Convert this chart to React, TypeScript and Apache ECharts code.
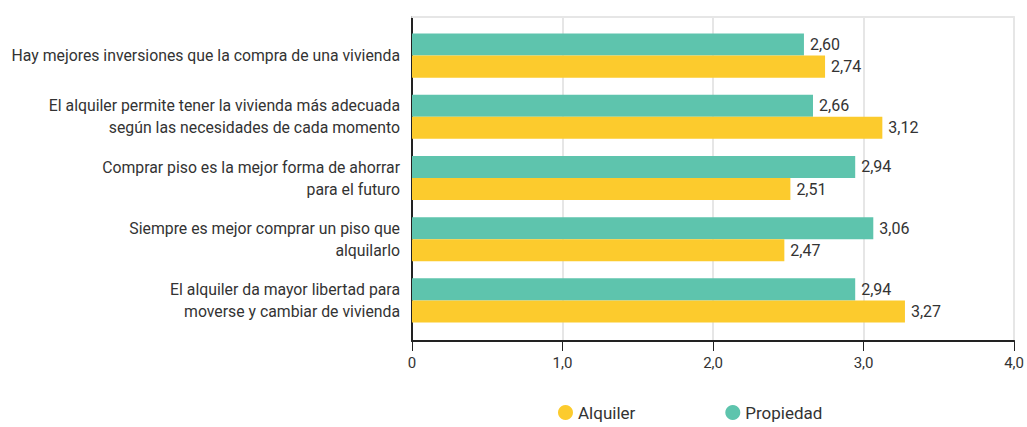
import React, { useEffect, useRef } from "react";
import * as echarts from "echarts";

const categories = [
  "Hay mejores inversiones que la compra de una vivienda",
  "El alquiler permite tener la vivienda más adecuada\nsegún las necesidades de cada momento",
  "Comprar piso es la mejor forma de ahorrar\npara el futuro",
  "Siempre es mejor comprar un piso que\nalquilarlo",
  "El alquiler da mayor libertad para\nmoverse y cambiar de vivienda",
];
const alquiler = [2.74, 3.12, 2.51, 2.47, 3.27];
const propiedad = [2.6, 2.66, 2.94, 3.06, 2.94];
const xTicks = [0, 1, 2, 3, 4];

const fmt = (v: number) => v.toFixed(2).replace(".", ",");
const FONT = "Roboto";
const TXT = "#333";

export default function App() {
  const ref = useRef<HTMLDivElement>(null);
  useEffect(() => {
    const chart = echarts.init(ref.current!, null, { renderer: "svg" });
    const xMin = xTicks[0];
    const xMax = xTicks[xTicks.length - 1];
    const label = {
      show: true,
      position: "right",
      distance: 6,
      fontFamily: FONT,
      fontSize: 16,
      color: TXT,
      formatter: (p: any) => fmt(p.value),
    };
    chart.setOption({
      animation: false,
      textStyle: { fontFamily: FONT },
      grid: [
        { left: 412, right: 12, top: 17, bottom: 86, containLabel: false },
        { left: 412, right: 12, top: 25, bottom: 96, containLabel: false },
      ],
      legend: {
        bottom: 1,
        left: 553,
        icon: "circle",
        itemWidth: 15,
        itemHeight: 15,
        itemGap: 90,
        data: ["Alquiler", "Propiedad"],
        textStyle: { fontFamily: FONT, fontSize: 17, color: TXT },
      },
      xAxis: [
        {
          gridIndex: 0,
          type: "value",
          min: xMin,
          max: xMax,
          interval: 1,
          axisLine: { show: true, lineStyle: { color: "#222", width: 2 } },
          axisTick: { show: true, length: 10, lineStyle: { color: "#222" } },
          axisLabel: {
            margin: 14,
            fontFamily: FONT,
            fontSize: 15,
            color: TXT,
            formatter: (v: number) => (v === 0 ? "0" : v.toFixed(1).replace(".", ",")),
          },
          splitLine: { show: true, lineStyle: { color: "#e6e6e6", width: 2 } },
        },
        {
          gridIndex: 0,
          type: "value",
          position: "top",
          min: xMin,
          max: xMax,
          interval: 1,
          axisLine: { show: true, lineStyle: { color: "#e6e6e6", width: 2 } },
          axisTick: { show: false },
          axisLabel: { show: false },
          splitLine: { show: false },
        },
        {
          gridIndex: 1,
          type: "value",
          min: xMin,
          max: xMax,
          interval: 1,
          show: false,
        },
      ],
      yAxis: [
        {
          gridIndex: 0,
          type: "value",
          min: 0,
          max: 1,
          axisLine: { show: true, lineStyle: { color: "#222", width: 2 } },
          axisTick: { show: false },
          axisLabel: { show: false },
          splitLine: { show: false },
        },
        {
          gridIndex: 1,
          type: "category",
          data: categories,
          inverse: true,
          axisLine: { show: false },
          axisTick: { show: false },
          axisLabel: {
            margin: 12,
            fontFamily: FONT,
            fontSize: 15.8,
            lineHeight: 22,
            color: TXT,
            align: "right",
          },
        },
      ],
      series: [
        {
          name: "Propiedad",
          type: "bar",
          xAxisIndex: 2,
          yAxisIndex: 1,
          data: propiedad,
          itemStyle: { color: "#5EC4AD" },
          barGap: "0%",
          barCategoryGap: "28%",
          label,
        },
        {
          name: "Alquiler",
          type: "bar",
          xAxisIndex: 2,
          yAxisIndex: 1,
          data: alquiler,
          itemStyle: { color: "#FCCB2D" },
          barGap: "0%",
          barCategoryGap: "28%",
          label,
        },
      ],
    });
    return () => chart.dispose();
  }, []);
  return (
    <div
      ref={ref}
      style={{ position: "absolute", left: 0, top: 0, width: 1027, height: 427 }}
    />
  );
}
